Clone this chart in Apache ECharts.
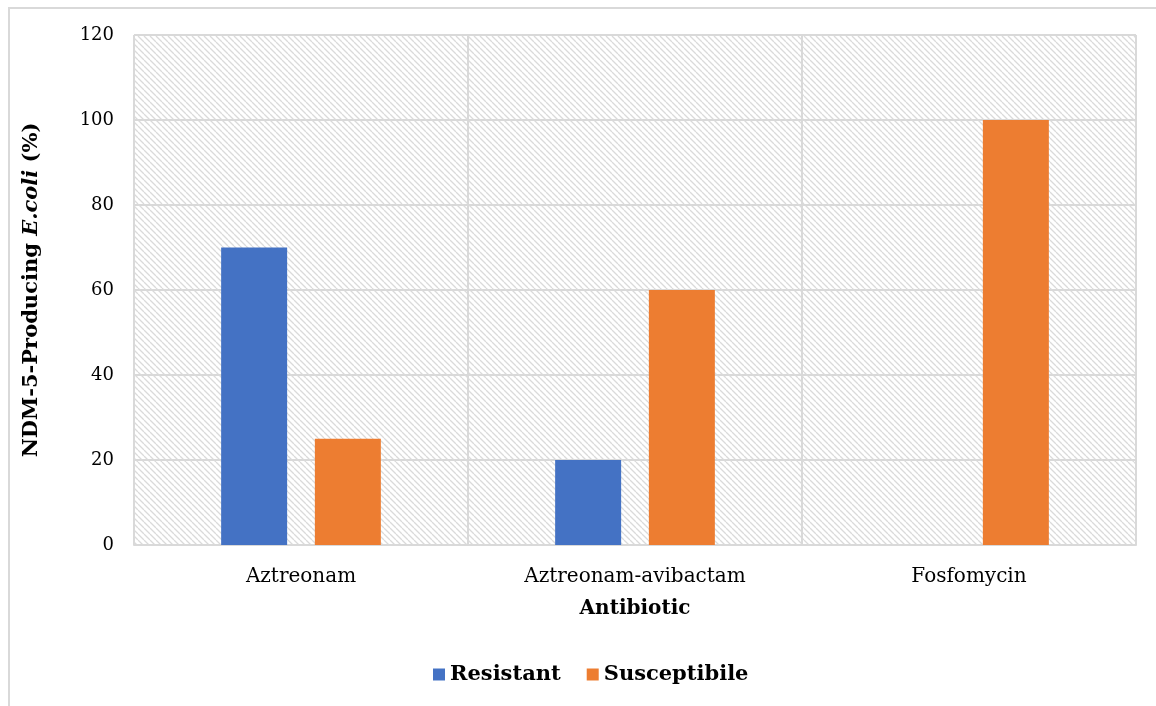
<!DOCTYPE html>
<html>
<head>
<meta charset="utf-8">
<script src="https://cdn.jsdelivr.net/npm/echarts@6/dist/echarts.min.js"></script>
<style>
  html, body { margin: 0; padding: 0; background: #fff; }
  #frame { position: absolute; left: 8px; top: 7px; width: 1160px; height: 710px; border: 2px solid #d9d9d9; box-sizing: border-box; }
  #chart { position: absolute; left: 0; top: 0; width: 1156px; height: 706px; }
</style>
</head>
<body>
<div id="frame"></div>
<div id="chart"></div>
<script>
const categories = ['Aztreonam', 'Aztreonam-avibactam', 'Fosfomycin'];
const resistant = [70, 20, 0];
const susceptible = [25, 60, 100];
const yTicks = { min: 0, max: 120, interval: 20 };

// diagonal hatch fill for the plot background
function hatch() {
  const c = document.createElement('canvas');
  c.width = 6; c.height = 6;
  const g = c.getContext('2d');
  g.fillStyle = '#ffffff';
  g.fillRect(0, 0, 6, 6);
  g.strokeStyle = '#dadada';
  g.lineWidth = 1.3;
  g.beginPath();
  for (let k = -6; k <= 12; k += 6) {
    g.moveTo(k, 0); g.lineTo(k + 6, 6);
  }
  g.stroke();
  return c;
}

const serif = "'DejaVu Serif', serif";
const chart = echarts.init(document.getElementById('chart'));
chart.setOption({
  animation: false,
  textStyle: { fontFamily: serif },
  grid: {
    left: 134, right: 20, top: 35, bottom: 161,
    show: true,
    backgroundColor: { image: hatch(), repeat: 'repeat' },
    borderWidth: 0
  },
  legend: {
    bottom: 16,
    left: 428,
    itemWidth: 12, itemHeight: 12,
    itemGap: 26,
    icon: 'rect',
    textStyle: { fontFamily: serif, fontWeight: 'bold', fontSize: 21, color: '#000' },
    data: ['Resistant', 'Susceptibile']
  },
  xAxis: {
    type: 'category',
    data: categories,
    name: 'Antibiotic',
    nameLocation: 'middle',
    nameGap: 54,
    nameTextStyle: { fontFamily: serif, fontWeight: 'bold', fontSize: 20, color: '#000' },
    axisLine: { lineStyle: { color: '#d9d9d9', width: 2 } },
    axisTick: { show: false },
    axisLabel: { fontFamily: serif, fontSize: 20, color: '#000', margin: 22 },
    splitLine: { show: true, lineStyle: { color: '#d9d9d9', width: 2 } }
  },
  yAxis: {
    type: 'value',
    min: yTicks.min, max: yTicks.max, interval: yTicks.interval,
    name: '{b|NDM-5-Producing }{i|E.coli}{b| (%)}',
    nameLocation: 'middle',
    nameGap: 92,
    nameRotate: 90,
    nameTextStyle: {
      rich: {
        b: { fontFamily: serif, fontWeight: 'bold', fontSize: 21, color: '#000' },
        i: { fontFamily: serif, fontWeight: 'bold', fontStyle: 'italic', fontSize: 21, color: '#000' }
      }
    },
    axisLine: { show: false },
    axisTick: { show: false },
    axisLabel: { fontFamily: serif, fontSize: 18, color: '#000', margin: 20 },
    splitLine: { lineStyle: { color: '#d9d9d9', width: 2 } }
  },
  series: [
    {
      name: 'Resistant', type: 'bar', data: resistant,
      barWidth: 66, barGap: '42%',
      itemStyle: { color: '#4472c4' }
    },
    {
      name: 'Susceptibile', type: 'bar', data: susceptible,
      barWidth: 66,
      itemStyle: { color: '#ed7d31' }
    }
  ]
});
</script>
</body>
</html>
